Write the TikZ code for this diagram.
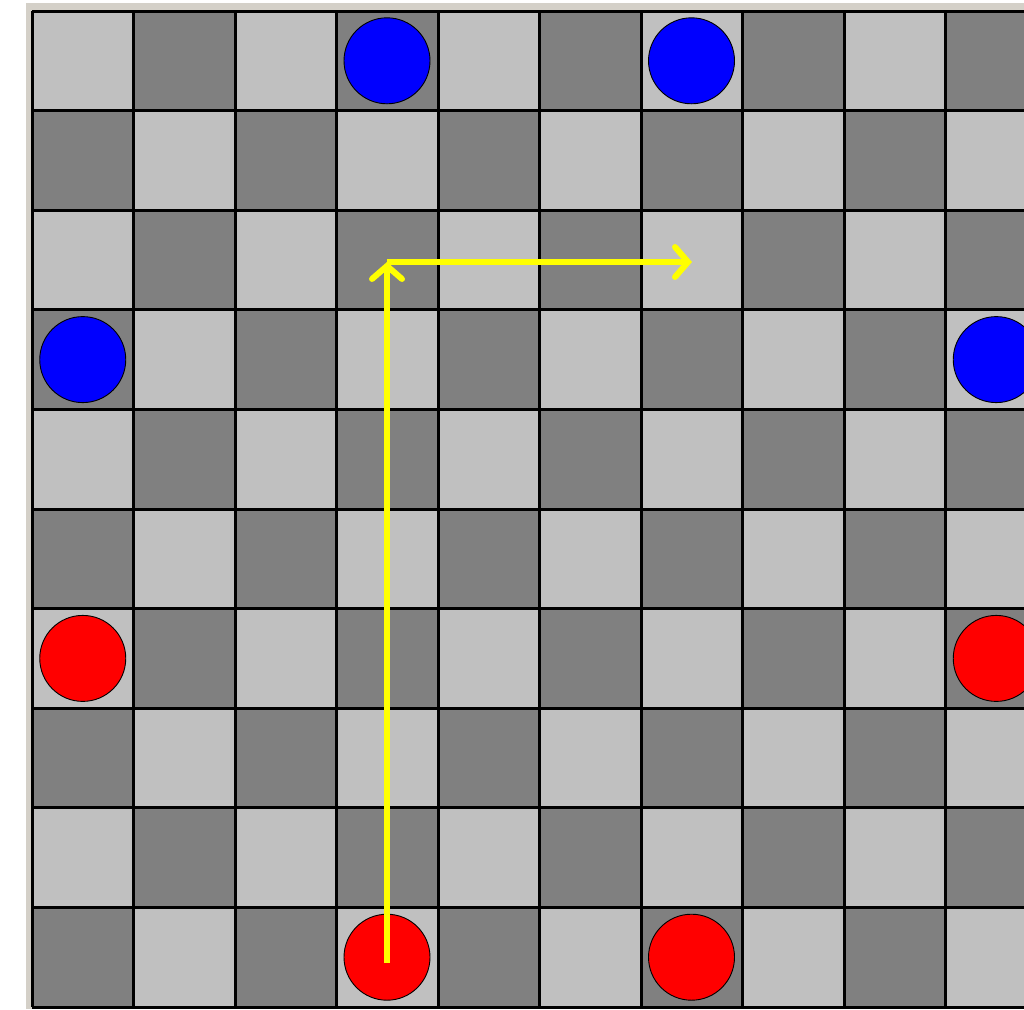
\documentclass[tikz,border=0pt]{standalone}
\usetikzlibrary{arrows.meta}
\definecolor{framegray}{HTML}{D4D0C8}
\definecolor{lightsq}{HTML}{C0C0C0}
\definecolor{darksq}{HTML}{808080}
\definecolor{bluep}{HTML}{0000FF}
\definecolor{redp}{HTML}{FF0000}
\definecolor{arrowy}{HTML}{FFFF00}
\begin{document}
\begin{tikzpicture}[x=1pt,y=-1pt,
  piece/.style={circle,minimum size=86pt,inner sep=0pt,draw=black,line width=0.9pt},
  bluepiece/.style={piece,fill=bluep},
  redpiece/.style={piece,fill=redp},
  gridline/.style={draw=black,line width=3pt},
  yarrow/.style={draw=arrowy,line width=6pt,-{Straight Barb[length=13pt,width=30pt,line cap=round]}}]
\useasboundingbox (0,0) rectangle (1024,1009);
\clip (0,0) rectangle (1024,1009);
\fill[framegray] (26,3) rectangle (1024,1009);
\foreach \r in {0,...,9} {
  \foreach \c in {0,...,10} {
    \pgfmathtruncatemacro\p{mod(\r+\c,2)}
    \ifnum\p=0 \def\sqcol{lightsq}\else\def\sqcol{darksq}\fi
    \fill[\sqcol] ({32+101.5*\c},{11+99.6*\r}) rectangle +(101.5,99.6);
  }
}
\foreach \c in {0,...,10}
  \draw[gridline] ({32+101.5*\c},11) -- ({32+101.5*\c},1007);
\foreach \r in {0,...,10}
  \draw[gridline] (32,{11+99.6*\r}) -- (1080,{11+99.6*\r});
\node[bluepiece] (b1) at (387,60.8) {};
\node[bluepiece] (b2) at (691.5,60.8) {};
\node[bluepiece] (b3) at (82.75,359.6) {};
\node[bluepiece] (b4) at (996.25,359.6) {};
\node[redpiece] (r1) at (82.75,658.4) {};
\node[redpiece] (r2) at (996.25,658.4) {};
\node[redpiece] (r3) at (387,957.2) {};
\node[redpiece] (r4) at (691.5,957.2) {};
\coordinate (start) at (387,963);
\coordinate (corner) at (387,262);
\coordinate (end) at (692,262);
\draw[yarrow] (start) -- (corner);
\draw[yarrow] (corner) -- (end);
\end{tikzpicture}
\end{document}
